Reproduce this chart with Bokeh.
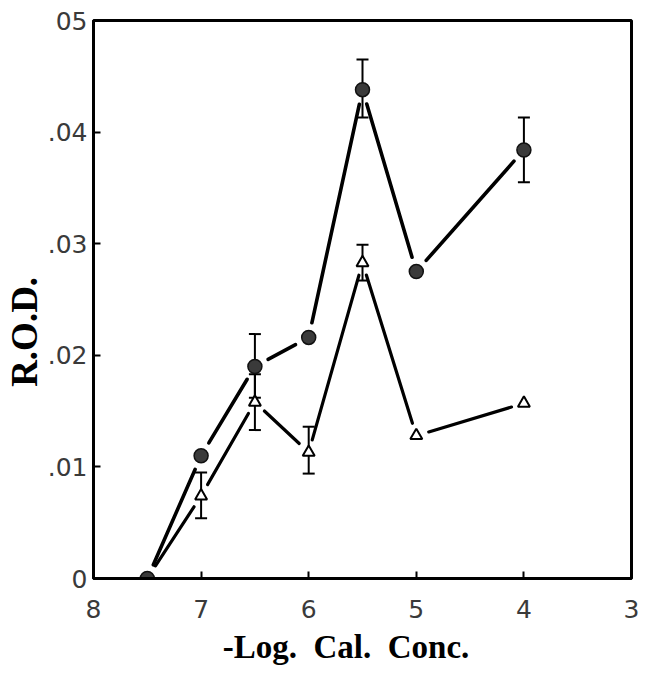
import math
from bokeh.plotting import figure
from bokeh.models import Range1d, ColumnDataSource, Whisker, TeeHead, FixedTicker
from bokeh.embed import file_html
from bokeh.resources import INLINE

# ---- data ----
log_conc = [7.5, 7.0, 6.5, 6.0, 5.5, 5.0, 4.0]
rod_filled = [0.0, 0.0110, 0.0190, 0.0216, 0.0438, 0.0275, 0.0384]
rod_open = [0.0, 0.0074, 0.0158, 0.0113, 0.0283, 0.0128, 0.0157]

err_x_filled = [6.5, 5.5, 4.0]
err_hi_filled = [0.0219, 0.0465, 0.0413]
err_lo_filled = [0.0162, 0.0413, 0.0355]

err_x_open = [7.0, 6.5, 6.0, 5.5]
err_hi_open = [0.0095, 0.0183, 0.0136, 0.0299]
err_lo_open = [0.0054, 0.0133, 0.0094, 0.0267]

x_ticks = [8, 7, 6, 5, 4, 3]
y_ticks = [0.0, 0.01, 0.02, 0.03, 0.04, 0.05]
y_tick_labels = ["0", ".01", ".02", ".03", ".04", "05"]

X_MIN, X_MAX = 8, 3
Y_MIN, Y_MAX = 0.0, 0.05

W, H = 645, 674
BL, BR, BT, BB = 92, 14, 20, 96
FW, FH = W - BL - BR, H - BT - BB

p = figure(width=W, height=H, output_backend="svg", toolbar_location=None,
           x_range=Range1d(X_MIN, X_MAX), y_range=Range1d(Y_MIN, Y_MAX))
p.min_border_left = BL
p.min_border_right = BR
p.min_border_top = BT
p.min_border_bottom = BB
p.background_fill_color = "white"
p.border_fill_color = "white"
p.grid.visible = False
p.outline_line_color = "black"
p.outline_line_width = 3

for ax in (p.xaxis[0], p.yaxis[0]):
    ax.axis_line_color = "black"
    ax.axis_line_width = 3
    ax.major_tick_in = 7
    ax.major_tick_out = 0
    ax.major_tick_line_width = 2
    ax.minor_tick_line_color = None
    ax.major_label_text_font = "DejaVu Sans"
    ax.major_label_text_font_size = "25px"
    ax.major_label_text_color = "#3a3a3a"
    ax.axis_label_text_font = "Liberation Serif"
    ax.axis_label_text_font_style = "bold"
    ax.axis_label_text_color = "black"

p.xaxis.ticker = FixedTicker(ticks=x_ticks)
p.yaxis.ticker = FixedTicker(ticks=y_ticks)
p.yaxis.major_label_overrides = {t: l for t, l in zip(y_ticks, y_tick_labels)}
p.xaxis.major_label_standoff = 21
p.yaxis.major_label_standoff = 6

NB = "\u00a0"
p.xaxis.axis_label = "-Log." + NB * 2 + "Cal." + NB * 2 + "Conc." + NB * 4
p.xaxis.axis_label_text_font_size = "33px"
p.xaxis.axis_label_standoff = 8

p.yaxis.axis_label = "R.O.D." + NB * 7
p.yaxis.axis_label_text_font_size = "37px"
p.yaxis.axis_label_standoff = 0

sx = FW / abs(X_MAX - X_MIN)
sy = FH / (Y_MAX - Y_MIN)


# ---- connecting lines with small gaps at the markers ----
def gapped(xs, ys, gap):
    x0, y0, x1, y1 = [], [], [], []
    for i in range(len(xs) - 1):
        dx = (xs[i + 1] - xs[i]) * sx
        dy = (ys[i + 1] - ys[i]) * sy
        L = math.hypot(dx, dy)
        g0 = gap[i] / L
        g1 = gap[i + 1] / L
        x0.append(xs[i] + (xs[i + 1] - xs[i]) * g0)
        y0.append(ys[i] + (ys[i + 1] - ys[i]) * g0)
        x1.append(xs[i + 1] - (xs[i + 1] - xs[i]) * g1)
        y1.append(ys[i + 1] - (ys[i + 1] - ys[i]) * g1)
    return dict(x0=x0, y0=y0, x1=x1, y1=y1)


gap_f = [15] + [15] * (len(log_conc) - 1)
gap_o = [15] + [13] * (len(log_conc) - 1)
p.segment("x0", "y0", "x1", "y1", source=ColumnDataSource(gapped(log_conc, rod_filled, gap_f)),
          line_color="black", line_width=3.6, line_cap="round")
p.segment("x0", "y0", "x1", "y1", source=ColumnDataSource(gapped(log_conc, rod_open, gap_o)),
          line_color="black", line_width=3.2, line_cap="round")

# error bars
esf = ColumnDataSource(dict(x=err_x_filled, hi=err_hi_filled, lo=err_lo_filled))
eso = ColumnDataSource(dict(x=err_x_open, hi=err_hi_open, lo=err_lo_open))
for es in (esf, eso):
    w = Whisker(base="x", upper="hi", lower="lo", source=es, line_width=2, line_color="black",
                upper_head=TeeHead(size=12, line_width=2, line_color="black"),
                lower_head=TeeHead(size=12, line_width=2, line_color="black"))
    p.add_layout(w)

src = ColumnDataSource(dict(x=log_conc, f=rod_filled, o=rod_open))
p.scatter("x", "o", source=src, marker="triangle", size=12, fill_color="white",
          line_color="black", line_width=2)
p.scatter("x", "f", source=src, marker="circle", size=14, fill_color="#3a3a3a",
          line_color="#111111", line_width=1.5)

open("out.html", "w").write(file_html(p, INLINE))
